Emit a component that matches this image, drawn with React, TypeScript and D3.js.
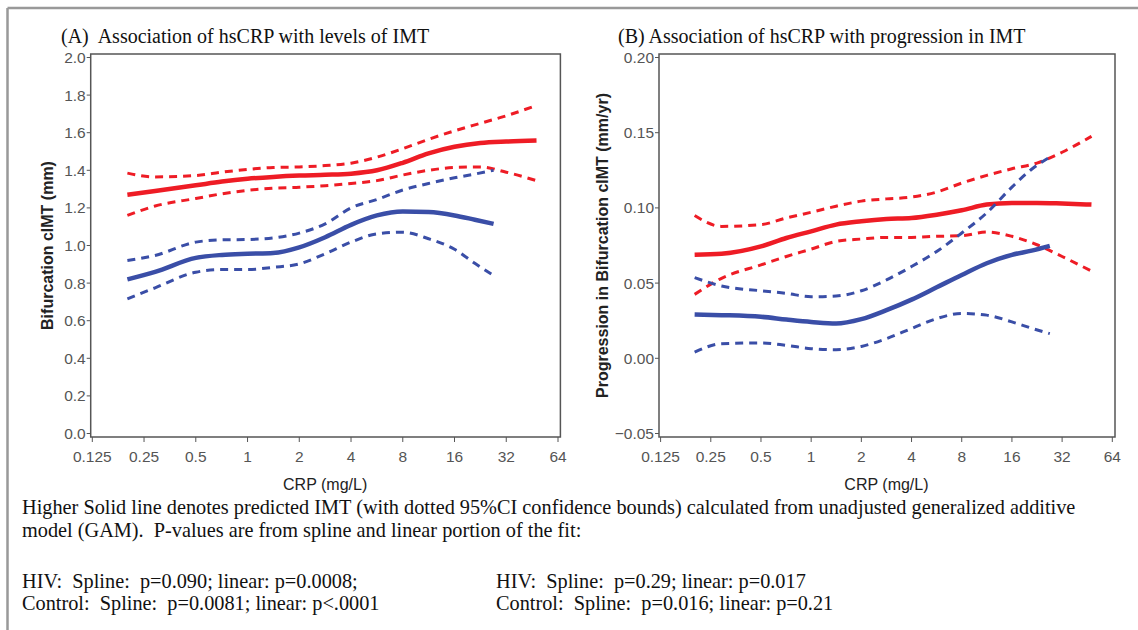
import React from 'react'
import * as d3 from 'd3'

// CRP grid (mg/L) used for each group's curves
const crpHiv = [0.2, 0.29, 0.5, 0.71, 1, 1.41, 2, 2.83, 4, 5.66, 8, 11.3, 16, 22.6, 32, 48]
const crpControl = [0.2, 0.29, 0.5, 0.71, 1, 1.41, 2, 2.83, 4, 5.66, 8, 11.3, 16, 21, 27]

// (A) levels of IMT (mm)
const levelHivFit = [1.27, 1.29, 1.32, 1.34, 1.355, 1.365, 1.372, 1.376, 1.382, 1.4, 1.44, 1.49, 1.525, 1.545, 1.553, 1.558]
const levelHivUpper = [1.385, 1.365, 1.372, 1.39, 1.405, 1.415, 1.418, 1.425, 1.438, 1.47, 1.515, 1.565, 1.61, 1.65, 1.69, 1.745]
const levelHivLower = [1.16, 1.21, 1.25, 1.275, 1.293, 1.305, 1.31, 1.318, 1.33, 1.345, 1.375, 1.4, 1.415, 1.418, 1.39, 1.345]
const levelCtrlFit = [0.82, 0.86, 0.934, 0.95, 0.956, 0.96, 0.99, 1.044, 1.11, 1.16, 1.181, 1.178, 1.16, 1.137, 1.115]
const levelCtrlUpper = [0.92, 0.947, 1.018, 1.03, 1.032, 1.04, 1.066, 1.115, 1.2, 1.245, 1.295, 1.33, 1.36, 1.38, 1.4]
const levelCtrlLower = [0.716, 0.775, 0.858, 0.872, 0.872, 0.884, 0.902, 0.956, 1.018, 1.062, 1.071, 1.036, 0.98, 0.905, 0.84]

// (B) progression in IMT (mm/yr)
const progHivFit = [0.0688, 0.0695, 0.0744, 0.08, 0.0844, 0.0889, 0.0911, 0.0926, 0.0933, 0.0955, 0.0984, 0.1022, 0.1033, 0.1033, 0.1029, 0.1022]
const progHivUpper = [0.0949, 0.0877, 0.0889, 0.0933, 0.0971, 0.1011, 0.1045, 0.106, 0.1072, 0.1105, 0.1165, 0.1216, 0.126, 0.1298, 0.137, 0.1476]
const progHivLower = [0.0425, 0.0532, 0.0621, 0.0677, 0.0726, 0.0777, 0.0793, 0.0804, 0.0804, 0.0811, 0.0815, 0.084, 0.0811, 0.0755, 0.0677, 0.058]
const progCtrlFit = [0.0291, 0.0287, 0.0276, 0.0258, 0.0242, 0.0231, 0.026, 0.032, 0.039, 0.0472, 0.0554, 0.0632, 0.0688, 0.0716, 0.0748]
const progCtrlUpper = [0.0536, 0.0481, 0.0449, 0.0432, 0.0409, 0.0414, 0.0449, 0.0521, 0.061, 0.071, 0.0833, 0.0967, 0.1138, 0.1257, 0.1338]
const progCtrlLower = [0.0041, 0.0097, 0.0102, 0.0086, 0.0064, 0.0057, 0.0079, 0.0131, 0.0198, 0.0264, 0.0298, 0.0287, 0.0242, 0.02, 0.0164]

const xTicks = [0.125, 0.25, 0.5, 1, 2, 4, 8, 16, 32, 64]
const xTickLabels = ['0.125', '0.25', '0.5', '1', '2', '4', '8', '16', '32', '64']
const levelTicks = [0, 0.2, 0.4, 0.6, 0.8, 1.0, 1.2, 1.4, 1.6, 1.8, 2.0]
const progTicks = [-0.05, 0, 0.05, 0.1, 0.15, 0.2]

const captionLines = [
  'Higher Solid line denotes predicted IMT (with dotted 95%CI confidence bounds) calculated from unadjusted generalized additive',
  'model (GAM).  P-values are from spline and linear portion of the fit:',
]
const pLeft = ['HIV:  Spline:  p=0.090; linear: p=0.0008;', 'Control:  Spline:  p=0.0081; linear: p<.0001']
const pRight = ['HIV:  Spline:  p=0.29; linear: p=0.017', 'Control:  Spline:  p=0.016; linear: p=0.21']

const RED = '#ee1c25'
const BLUE = '#3a4ea7'
const SANS = 'Arial, "Liberation Sans", sans-serif'
const SERIF = '"Times New Roman", "Liberation Serif", serif'

function Panel({ title, titleX, box, xRange, yDomain, yTicks, yFmt, yLabel, yLabelX, series }) {
  const x = d3.scaleLog().base(2).domain([0.125, 64]).range(xRange)
  const y = d3.scaleLinear().domain(yDomain).range([433.5, 57.5])
  const line = d3
    .line()
    .x(d => x(d[0]))
    .y(d => y(d[1]))
    .curve(d3.curveMonotoneX)

  const midX = (xRange[0] + xRange[1]) / 2
  const midY = (box.top + box.bottom) / 2

  return (
    <g>
      <text x={titleX} y={43} fontFamily={SERIF} fontSize={20} fill="#111" xmlSpace="preserve">
        {title}
      </text>
      <rect
        x={box.left}
        y={box.top}
        width={box.right - box.left}
        height={box.bottom - box.top}
        fill="none"
        stroke="#555"
        strokeWidth={1.5}
      />
      {/* y axis ticks */}
      {yTicks.map(t => (
        <g key={'y' + t}>
          <line x1={box.left - 4} x2={box.left} y1={y(t)} y2={y(t)} stroke="#555" strokeWidth={1} />
          <text
            x={box.left - 5}
            y={y(t)}
            dy="0.35em"
            textAnchor="end"
            fontFamily={SANS}
            fontSize={15.5}
            fill="#555"
          >
            {yFmt(t)}
          </text>
        </g>
      ))}
      {/* x axis ticks */}
      {xTicks.map((t, i) => (
        <g key={'x' + t}>
          <line x1={x(t)} x2={x(t)} y1={box.bottom} y2={box.bottom + 5} stroke="#555" strokeWidth={1} />
          <text x={x(t)} y={box.bottom + 25} textAnchor="middle" fontFamily={SANS} fontSize={15.5} fill="#555">
            {xTickLabels[i]}
          </text>
        </g>
      ))}
      <text x={midX} y={box.bottom + 53} textAnchor="middle" fontFamily={SANS} fontSize={16} fill="#222">
        CRP (mg/L)
      </text>
      <text
        transform={`translate(${yLabelX},${midY}) rotate(-90)`}
        textAnchor="middle"
        dy="0.35em"
        fontFamily={SANS}
        fontSize={16}
        fontWeight="bold"
        fill="#222"
      >
        {yLabel}
      </text>
      {series.map((s, i) => (
        <path
          key={i}
          d={line(s.crp.map((c, j) => [c, s.values[j]]))}
          fill="none"
          stroke={s.color}
          strokeWidth={s.dashed ? 3 : 4.5}
          strokeDasharray={s.dashed ? '8,6' : null}
        />
      ))}
    </g>
  )
}

const App = () => {
  const levelSeries = [
    { crp: crpHiv, values: levelHivUpper, color: RED, dashed: true },
    { crp: crpHiv, values: levelHivLower, color: RED, dashed: true },
    { crp: crpHiv, values: levelHivFit, color: RED, dashed: false },
    { crp: crpControl, values: levelCtrlUpper, color: BLUE, dashed: true },
    { crp: crpControl, values: levelCtrlLower, color: BLUE, dashed: true },
    { crp: crpControl, values: levelCtrlFit, color: BLUE, dashed: false },
  ]
  const progSeries = [
    { crp: crpHiv, values: progHivUpper, color: RED, dashed: true },
    { crp: crpHiv, values: progHivLower, color: RED, dashed: true },
    { crp: crpHiv, values: progHivFit, color: RED, dashed: false },
    { crp: crpControl, values: progCtrlUpper, color: BLUE, dashed: true },
    { crp: crpControl, values: progCtrlLower, color: BLUE, dashed: true },
    { crp: crpControl, values: progCtrlFit, color: BLUE, dashed: false },
  ]

  return (
    <svg
      width={1138}
      height={630}
      style={{ position: 'absolute', left: 0, top: 0, background: '#fff' }}
    >
      {/* outer frame (top and left edges only) */}
      <line x1={7.5} x2={1138} y1={8} y2={8} stroke="#999" strokeWidth={2.5} />
      <line x1={7.5} x2={7.5} y1={8} y2={630} stroke="#999" strokeWidth={2.5} />

      <Panel
        title="(A)  Association of hsCRP with levels of IMT"
        titleX={61}
        box={{ left: 90.7, right: 560.4, top: 54, bottom: 437 }}
        xRange={[92.3, 558]}
        yDomain={[0, 2]}
        yTicks={levelTicks}
        yFmt={d3.format('.1f')}
        yLabel="Bifurcation cIMT (mm)"
        yLabelX={47}
        series={levelSeries}
      />
      <Panel
        title="(B) Association of hsCRP with progression in IMT"
        titleX={618}
        box={{ left: 659, right: 1115, top: 54, bottom: 437 }}
        xRange={[660.6, 1112.3]}
        yDomain={[-0.05, 0.2]}
        yTicks={progTicks}
        yFmt={d3.format('.2f')}
        yLabel="Progression in Bifurcation cIMT (mm/yr)"
        yLabelX={602}
        series={progSeries}
      />

      <g fontFamily={SERIF} fontSize={20.3} fill="#111">
        {captionLines.map((t, i) => (
          <text key={'c' + i} x={22} y={514 + i * 23} xmlSpace="preserve">
            {t}
          </text>
        ))}
        {pLeft.map((t, i) => (
          <text key={'l' + i} x={22} y={588 + i * 22} xmlSpace="preserve">
            {t}
          </text>
        ))}
        {pRight.map((t, i) => (
          <text key={'r' + i} x={496} y={588 + i * 22} xmlSpace="preserve">
            {t}
          </text>
        ))}
      </g>
    </svg>
  )
}

export default App
